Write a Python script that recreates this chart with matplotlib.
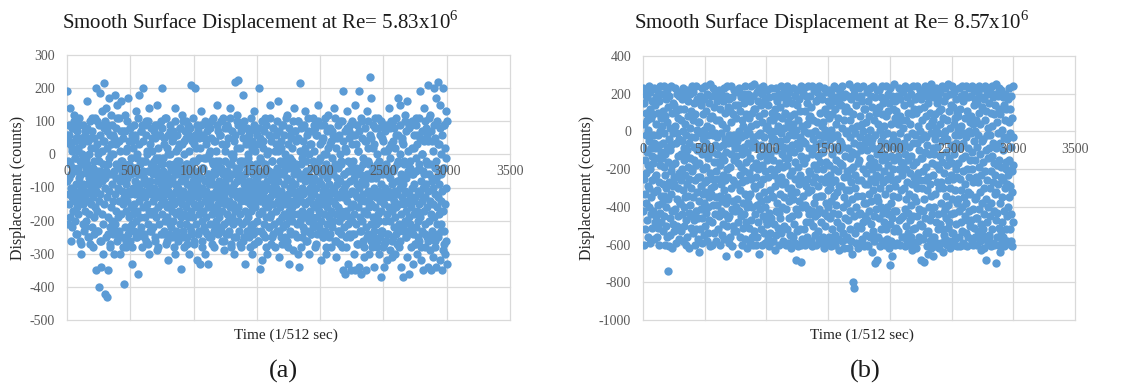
import numpy as np
import matplotlib
matplotlib.use("Agg")
import matplotlib.pyplot as plt

plt.rcParams['font.family'] = ['Liberation Serif', 'DejaVu Serif']
plt.rcParams['mathtext.fontset'] = 'custom'
plt.rcParams['mathtext.rm'] = 'Liberation Serif'
plt.rcParams['axes.unicode_minus'] = False

titles = [r'Smooth Surface Displacement at Re= 5.83x10$^{\mathregular{6}}$',
          r'Smooth Surface Displacement at Re= 8.57x10$^{\mathregular{6}}$']
panel_labels = ['(a)', '(b)']
x_label = 'Time (1/512 sec)'
y_label = 'Displacement (counts)'
x_ticks = [0, 500, 1000, 1500, 2000, 2500, 3000, 3500]
y_ticks_a = [-500, -400, -300, -200, -100, 0, 100, 200, 300]
y_ticks_b = [-1000, -800, -600, -400, -200, 0, 200, 400]
t_start, t_end = 0, 3000

# panel (a): samples read across the record (two interleaved reading passes)
disp_a = [
190,-80,40,-210,-120,60,-150,-30,-190,140,-100,-60,-220,20,-130,80,-170,-40,-110,120,-200,-10,-140,50,-90,
-160,-50,-240,10,-120,-180,90,-70,-260,-140,-20,-100,-300,-60,-130,30,-210,-90,-150,-10,-230,-110,70,-170,-40,
-120,-200,-30,160,-90,-250,-140,0,-180,-70,-110,-270,50,-150,-60,-220,-100,110,-130,-40,-190,-80,-240,20,-160,
200,-110,-350,-50,-170,100,-230,-90,-400,-140,-20,185,-260,-120,-60,-340,130,-180,-80,-210,40,-300,-150,215,-100,
-420,-70,140,-250,-130,-430,90,-190,-30,-350,-110,170,-220,-60,-280,120,-160,0,-200,-90,60,-240,-140,-300,-50,
180,-120,-210,30,-170,-70,-260,150,-100,-190,-40,-230,110,-140,-80,-300,-20,-180,160,-110,-250,-60,-150,70,-390,
-130,-50,-220,120,-90,-170,-280,20,-140,-70,-240,170,-110,-190,-30,-260,-120,80,-160,-60,-210,-330,40,-100,-180,
-40,-150,-230,60,-120,-80,-200,130,-170,-10,-250,-100,-360,-60,-140,180,-190,-90,-30,-220,-130,70,-280,-110,-50,
200,-160,-70,-240,-20,-130,-190,100,-90,-260,-150,10,-210,-110,-50,-300,-170,140,-80,-230,-120,-30,-180,50,-100,
-140,-60,-220,-20,-170,-100,90,-250,-130,-40,-190,-80,150,-290,-110,-160,-10,-210,-70,-130,60,-240,-90,-150,-30,
200,-180,-100,-50,-230,-140,30,-200,-80,-120,-270,110,-160,-60,-190,-320,-110,0,-240,-90,-150,70,-210,-40,-130,
-170,-70,-250,50,-120,-200,-30,-150,-300,-90,140,-180,-110,-230,-60,-140,20,-260,-100,-170,-20,-210,80,-130,-190,
-345,-80,-150,120,-230,-50,-110,-280,-180,40,-130,-70,-210,-160,100,-250,-90,-30,-190,-120,-300,60,-140,-60,-220,
-100,210,-170,-40,-240,-130,-80,-190,30,-150,-270,-60,-110,200,-210,-20,-160,-90,-320,-130,70,-180,-50,-230,-110,
-330,-150,-70,130,-200,-100,-260,-40,-170,-120,50,-220,-80,-140,-300,-10,-190,-110,90,-240,-60,-160,-330,-90,-130,
10,-210,-140,-70,-250,100,-120,-180,-30,-160,-90,-230,-280,40,-130,-60,-200,-110,-20,-170,150,-240,-100,-150,-50,
-190,-80,-120,60,-220,-140,-40,-260,-100,-170,110,-60,-210,-130,-290,-20,-150,-90,-240,30,-180,-110,-50,-200,80,
-140,-230,-70,-160,140,-100,-270,-30,-190,-120,-60,-210,0,-150,-90,-300,-170,220,-110,-40,-250,-130,120,-80,-200,
225,-160,-60,-230,-110,-20,-180,-280,90,-140,-70,-210,-120,180,-260,-90,-30,-170,-330,-100,50,-200,-140,-50,-240,
-120,-10,-190,-80,-250,70,-150,-100,-220,-40,-170,-300,-130,20,-210,-60,-110,-270,130,-160,-90,-30,-230,-140,-70,
-200,60,-120,-260,-50,-180,200,-100,-345,-140,-20,-230,-90,-170,-320,40,-130,-60,-210,-110,110,-250,-150,-40,-190,
-80,-140,-300,10,-160,-100,-220,-50,-190,150,-130,-270,-70,-180,-110,-20,-240,80,-150,-90,-210,-60,-120,-280,30,
-170,-100,-40,-230,-140,160,-80,-200,-120,-310,-60,-160,20,-250,-110,-190,-30,-140,-220,90,-90,-180,-50,-270,-130,
-10,-210,-150,-70,-260,120,-120,-190,-40,-170,-330,-100,-230,60,-140,-80,-200,-20,-160,-290,-110,140,-60,-180,-120,
-240,-90,40,-150,-210,-50,-130,-300,-180,100,-110,-340,-70,-200,215,-140,-30,-250,-100,-170,0,-220,-120,-60,-190,
130,-150,-80,-260,-20,-180,-110,-230,70,-140,-60,-200,-300,-100,-170,30,-240,-130,-40,-190,-90,110,-220,-150,-70,
-210,-120,-30,-280,-160,60,-100,-190,-50,-240,-140,150,-80,-220,-170,-10,-130,-320,-90,-200,40,-150,-60,-250,-110,
90,-180,-130,-40,-230,-100,-300,0,-160,-70,-210,120,-140,-250,-90,-190,30,-120,-50,-280,-170,-110,70,-220,-140,
-60,-200,-100,140,-260,-150,-30,-180,-120,-310,50,-90,-230,-160,-40,-200,-130,100,-270,-80,-170,-20,-240,-110,-190,
190,-350,-130,-60,-220,-100,-360,20,-170,-90,-280,-140,130,-210,-50,-330,-120,-190,70,-250,-80,-160,-350,-30,-200,
-110,-240,60,-150,-300,-70,-180,150,-120,-350,-40,-210,-130,-90,-270,10,-160,-340,-100,190,-230,-60,-190,-140,-360,
-80,100,-200,-120,-260,-30,-170,-310,40,-140,-90,-220,-350,-60,130,-180,-110,-240,-20,-160,-300,235,-130,-70,-210,
170,-150,-50,-280,-120,-190,20,-230,-100,-340,-160,80,-70,-210,-130,-260,-30,-180,110,-110,-300,-60,-200,-140,-250,
-90,-370,-170,50,-230,-120,-40,-280,-150,-340,90,-100,-200,-60,-260,-130,-320,10,-180,-110,-240,-50,140,-160,-290,
-70,-200,-130,30,-310,-90,-170,-250,100,-140,-40,-220,-300,-110,-190,60,-160,-80,-270,-120,170,-230,-20,-150,-210,
150,-100,-260,-60,-180,-340,-130,40,-220,-90,-370,-150,-30,-200,120,-110,-250,-170,-70,-310,160,-140,-230,-50,-190,
-120,-360,-20,-210,-160,90,-280,-100,-60,-240,-140,-330,20,-180,-90,-270,-130,110,-50,-220,-170,-300,60,-110,-200,
-150,-40,-260,-120,190,-190,-80,-320,-140,0,-230,-100,-350,140,-170,-60,-280,-130,-210,80,-90,-250,-160,-30,-340,
210,-110,-200,-60,-290,-140,120,-180,-350,-80,-230,40,-150,-310,-100,200,-190,-40,-260,-120,170,-340,-70,-210,-160,
220,-130,-250,30,-180,-90,-320,150,-140,-210,-60,-350,-110,200,-290,-170,90,-230,-40,-300,-150,130,-260,-100,-330,
]

disp_a_pass2 = [
60,-20,90,-70,30,-260,10,80,-50,100,-10,40,-240,70,-40,20,110,-60,50,-270,0,90,-30,-220,60,
-10,80,-60,40,-250,100,20,-40,70,-280,-20,50,110,-70,30,-230,0,90,-50,60,-260,10,-30,80,40,
100,-50,20,70,-240,-10,60,-270,30,90,-60,0,50,-230,80,-30,110,-250,40,-70,10,70,-20,-280,50,
-30,70,-260,10,100,-50,40,-220,80,-10,60,-280,20,90,-40,50,-250,0,110,-60,30,-230,70,-20,90,
40,-250,90,-20,60,0,-270,100,-50,30,80,-230,10,-40,70,-260,50,-10,90,-280,20,60,-60,100,-30,
80,-10,-240,50,110,-70,20,-260,60,-30,90,0,-220,40,70,-50,-280,100,10,-20,60,-250,30,80,-40,
-60,30,100,-250,0,70,-30,50,-270,90,10,-50,80,-230,40,110,-20,-260,60,-70,20,90,-240,-10,50,
20,90,-40,-280,60,-10,100,-230,30,70,-60,-250,0,80,50,-20,-270,110,-50,40,-220,10,90,-30,70,
-20,60,-230,100,30,-50,-260,80,10,-70,90,-240,50,-30,110,0,-280,70,-10,40,-250,60,-60,20,100,
90,-40,20,-270,70,-20,50,100,-250,-60,30,80,-230,0,60,-280,-30,110,40,-50,-240,90,10,-70,70,
30,-260,80,-10,50,-60,100,-240,20,70,-30,-280,90,0,-50,60,-220,110,40,-20,-250,80,-70,10,60,
-50,100,10,-230,70,-20,40,-270,90,-60,60,0,-250,110,-30,30,-280,80,-10,50,-240,20,100,-40,70,
70,-30,-250,50,100,-60,10,-280,80,-10,40,-230,90,20,-50,60,-260,110,0,-70,30,-240,70,-20,90,
10,80,-270,-40,60,100,-20,-230,30,90,-60,50,-250,0,110,-30,-280,70,20,-50,80,-240,40,-10,60,
-40,50,110,-260,20,-70,90,-230,60,0,-30,100,-280,40,-60,70,-250,10,80,-20,-240,50,90,-50,30,
100,-20,-240,60,-60,30,90,-270,10,70,-40,-230,110,50,-10,-280,80,-70,40,-250,20,100,-30,60,-260,
50,-70,90,-250,30,110,-40,0,-280,80,-20,60,-230,100,-60,40,-270,10,70,-30,-240,90,-50,20,80,
-10,100,-260,40,-50,80,20,-240,110,-30,60,-280,0,90,-70,50,-230,30,-20,100,-250,70,-60,10,90,
80,-40,-230,20,100,-60,60,-270,-10,90,30,-250,110,-30,50,-280,0,70,-50,40,-240,100,-20,60,-260,
40,110,-30,-250,70,-70,10,90,-280,50,-20,100,-240,30,-60,80,-230,0,60,-40,-270,90,20,-10,100,
]

disp_b = [
230,-420,-80,150,-600,-250,40,-330,200,-150,-520,100,-20,-380,-220,180,-470,-110,60,-290,-560,10,-180,240,-400,
-50,-300,120,-590,-200,210,-440,-90,-350,70,-130,-510,160,-260,-20,-420,90,-170,-570,230,-320,-60,-480,140,-240,
-90,180,-450,-230,40,-560,-310,220,-140,-20,-390,100,-510,-270,160,-70,-600,-180,0,-430,240,-340,-110,70,-480,
30,-380,-140,200,-530,-280,110,-60,-450,-190,240,-340,-10,-600,-230,80,-120,-400,170,-500,-300,50,-80,-560,220,
-740,-160,130,-360,-610,-40,-270,190,-460,-100,20,-550,-210,240,-330,-70,-420,100,-180,-620,-290,150,-10,-490,-240,
140,-280,-530,30,-170,230,-410,-60,-590,110,-240,-360,200,-10,-500,-130,70,-450,-300,190,-570,-40,-220,120,-380,
210,-380,-120,60,-530,-260,170,-50,-440,-200,230,-580,-310,0,-150,-400,120,-90,-500,-230,190,-350,40,-600,-130,
-20,-470,220,-280,-100,-560,80,-340,-190,160,-430,-60,-620,-250,20,-390,200,-140,-510,-300,110,-30,-450,-210,240,
-200,60,-540,-350,210,-80,-470,-150,150,-600,-30,-260,90,-420,240,-180,-520,10,-320,-100,170,-460,-240,50,-570,
-640,-170,50,-370,-80,190,-520,-240,-10,-410,140,-290,-590,-120,230,-460,-40,-330,90,-200,-550,10,-380,170,-270,
-110,-500,240,-320,-60,-430,110,-190,-580,30,-260,200,-400,-140,-20,-540,150,-350,-90,-470,70,-220,-610,250,-300,
20,-330,190,-480,-110,-600,80,-250,-20,230,-390,-160,-540,130,-290,-70,200,-440,-10,-580,60,-210,-350,160,-120,
-30,-390,180,-160,-520,-250,60,-450,-80,220,-340,-600,-180,120,-420,-10,-280,200,-550,-130,40,-370,-230,160,-490,
-70,230,-310,-570,-150,100,-440,-40,-260,190,-380,-660,-110,20,-500,-200,240,-350,-60,-460,130,-240,-590,-20,170,
-450,110,-190,-30,-560,240,-300,-120,50,-410,-610,180,-60,-260,-500,90,-370,-150,220,-20,-530,-280,140,-90,-420,
-400,-130,70,-530,-280,210,-50,-360,-170,140,-480,-650,-90,0,-420,230,-230,-560,110,-310,-30,-450,180,-190,-600,
60,-270,-120,200,-510,-380,30,-80,-440,150,-210,-570,-20,-330,240,-160,-480,90,-260,-620,10,-400,190,-110,-350,
200,-60,-380,-510,70,-220,-10,-590,160,-330,-140,30,-470,240,-250,-560,100,-80,-400,-190,190,-600,-30,-290,120,
250,-530,-60,-300,120,-440,-170,-600,40,-240,210,-390,-90,-560,160,-20,-480,-200,80,-340,-650,230,-130,-410,-10,
-280,140,-520,-70,-370,200,-180,-600,50,-450,-250,240,-120,-30,-540,100,-320,-590,170,-210,-400,20,-80,-470,220,
-150,-490,30,220,-360,-80,-570,140,-240,10,-430,-610,180,-120,-310,60,-540,-20,230,-200,-460,100,-340,-50,-580,
-150,-580,60,-350,-40,190,-490,-230,-630,120,-290,0,-420,230,-100,-550,80,-200,-380,160,-60,-510,-260,30,-430,
200,-170,-600,-50,-330,130,-460,-10,-240,240,-540,-120,70,-400,-280,180,-580,-80,-190,20,-350,210,-500,-140,100,
90,-270,-600,150,-40,-410,-180,240,-520,-90,-300,50,-590,170,-140,-460,-20,210,-370,-230,80,-550,-110,20,-330,
-300,-620,150,-70,-450,-210,40,-560,230,-360,-110,-20,-490,90,-250,-590,190,-160,-410,10,-680,-320,140,-60,-530,
220,-190,-440,60,-610,-280,170,-90,-370,-30,-520,110,-230,-600,240,-130,-690,-400,30,-260,-570,200,-50,-340,-150,
-520,0,230,-170,-390,-600,110,-60,-290,190,-480,-140,40,-560,-250,150,-10,-410,240,-320,-90,-580,70,-210,-440,
80,-480,-220,190,-580,-10,-310,130,-420,-120,-610,240,-270,-40,-500,60,-180,-380,220,-90,-550,-240,0,-450,160,
-350,-70,-600,210,-200,-440,50,-130,-530,170,-290,-20,-410,240,-570,-160,100,-340,-60,-480,-250,190,-590,-110,30,
170,-340,-110,50,-560,-200,230,-430,-30,-620,120,-270,-500,10,-160,210,-380,-70,-590,90,-240,-450,160,-20,-310,
-400,220,-180,-560,70,-300,-40,-460,140,-230,-610,10,-370,200,-120,-520,-270,90,-580,-30,-430,160,-200,-340,240,
-80,-550,120,-260,-600,40,-390,-150,230,-480,-20,-320,180,-570,-210,70,-440,-100,-630,150,-290,-50,-510,210,-170,
-60,-500,140,-290,20,-580,240,-180,-400,-80,180,-540,-240,60,-350,-620,110,-130,-460,200,-10,-310,-570,130,-210,
0,-380,-560,190,-240,-90,-470,110,-310,-620,250,-140,-30,-520,60,-420,-200,170,-580,-270,20,-650,-110,-360,230,
-800,-190,90,-450,-60,-830,200,-300,-540,-10,-230,140,-400,-590,-120,240,-340,30,-500,-170,-620,180,-260,-70,-440,
230,-150,-430,80,-600,-30,-260,190,-510,-100,-340,40,-570,160,-200,-480,0,240,-380,-70,-610,120,-280,-40,-450,
120,-550,-220,50,-380,-600,210,-100,-470,-280,160,-30,-610,-180,80,-420,-330,230,-560,-140,10,-490,-250,190,-60,
-370,-640,130,-200,-40,-530,240,-310,-90,-450,60,-580,-160,180,-270,-700,-20,-410,100,-230,-560,220,-120,-350,-680,
-370,40,-560,-190,220,-90,-460,130,-300,-610,10,-240,180,-520,-50,-400,90,-150,240,-580,-270,-20,150,-430,-120,
30,-480,-210,170,-600,-60,-330,240,-140,-520,80,-400,-250,-10,-570,200,-180,-440,110,-300,-620,-80,150,-490,-230,
-710,230,-130,-380,40,-580,-260,190,-50,-460,-660,120,-200,-340,-20,-530,250,-150,-420,70,-290,-600,160,-90,-510,
110,-420,-50,-590,190,-250,-130,40,-530,-350,230,-70,-470,-200,80,-600,-10,170,-310,-460,60,-160,-560,210,-90,
-230,20,-450,210,-170,-560,-300,140,-60,-410,-610,240,-120,-360,60,-500,-200,-30,-580,180,-270,-430,100,-150,-540,
230,-330,-80,-600,150,-220,-470,40,-130,-560,200,-390,-10,-280,-630,90,-180,-450,240,-60,-520,-240,120,-350,-590,
-280,170,-510,-20,-370,100,-620,-160,240,-450,-60,-300,30,-580,-220,190,-100,-410,-560,120,-260,0,220,-490,-140,
-40,-680,170,-300,-140,-500,60,-420,210,-210,-570,-20,-360,130,-690,-110,-460,240,-260,-30,-540,80,-190,-610,190,
-310,-70,-530,150,-240,-650,30,-400,220,-120,-580,-280,100,-470,-10,-340,-620,250,-170,-440,50,-560,-90,180,-660,
60,-230,-560,200,-120,-400,-610,90,-40,-330,230,-480,-180,20,-590,-270,150,-80,-440,-10,180,-520,-300,110,-620,
-200,40,-490,-130,210,-380,-590,120,-270,-50,-520,240,-160,-430,-640,70,-300,-20,-550,160,-220,-410,0,-570,230,
-110,-460,190,-340,-600,60,-180,-40,-510,250,-260,-390,-580,110,-140,-480,20,-300,200,-620,-70,-440,140,-230,-540,
-170,240,-360,-80,-540,130,-250,-600,40,-430,-120,210,-310,-20,-570,70,-200,-490,170,-60,-380,-610,100,-240,10,
80,-360,-170,230,-560,-20,-420,120,-250,-610,-90,190,-480,-310,30,-530,-140,240,-400,-60,-590,160,-210,-350,-10,
-600,200,-280,-450,70,-130,-540,240,-380,-30,-610,110,-200,-470,-320,180,-90,-560,0,-420,-240,230,-150,-500,50,
-330,80,-470,190,-10,-580,-200,240,-110,-410,40,-600,-270,140,-50,-510,220,-360,-150,0,-560,170,-240,-460,60,
-350,-600,150,-80,-460,210,-270,-20,-530,100,-190,-410,240,-580,-120,-320,40,-490,-630,180,-230,-50,-550,130,-380,
230,-160,-520,-40,-300,170,-440,-620,60,-210,-570,240,-100,-360,-680,110,-260,-20,-480,200,-590,-140,-400,20,-550,
150,-560,-90,-300,210,-450,-20,-610,100,-210,-380,240,-130,-520,30,-270,-590,180,-60,-420,-170,90,-600,-330,200,
-230,140,-470,-90,-700,250,-320,-560,50,-180,-430,190,-10,-600,-280,120,-510,-150,230,-380,-60,-640,90,-240,-530,
220,-190,-590,10,-350,-480,180,-100,-560,-260,140,-610,-30,-420,200,-300,-600,60,-160,-520,-200,120,-450,-580,-280,
-40,-400,170,-590,-230,50,-350,230,-150,-520,-10,-290,120,-580,-440,190,-80,-210,-610,70,-320,-30,240,-480,-180,
]

W, H = 1133, 388
fig = plt.figure(figsize=(W / 100, H / 100), dpi=100)

grid_c = '#d9d9d9'
tick_c = '#595959'
pt_c = '#5B9BD5'

panels = [
    dict(rect=(67, 55, 510, 320), ys=[disp_a, disp_a_pass2], yt=y_ticks_a,
         title_x=260, lab_x=286, pl_x=283, ylab_x=18),
    dict(rect=(643, 56, 1075, 320), ys=[disp_b], yt=y_ticks_b,
         title_x=832, lab_x=862, pl_x=865, ylab_x=587),
]

for i, p in enumerate(panels):
    x0, y0, x1, y1 = p['rect']
    ax = fig.add_axes([x0 / W, 1 - y1 / H, (x1 - x0) / W, (y1 - y0) / H])
    for xt in x_ticks:
        ax.axvline(xt, color=grid_c, lw=0.9, zorder=0.5, clip_on=False)
    for yt in p['yt']:
        ax.axhline(yt, color=grid_c, lw=0.9, zorder=0.5, clip_on=False)
    xs, yss = [], []
    for series in p['ys']:
        yv = np.array(series)
        xs.append(np.linspace(t_start, t_end, len(yv)))
        yss.append(yv)
    xv = np.concatenate(xs)
    yv = np.concatenate(yss)
    order = np.argsort(xv, kind='stable')
    ax.scatter(xv[order], yv[order], s=36, color=pt_c, linewidths=0, zorder=1.2)
    ax.set_xlim(x_ticks[0], x_ticks[-1])
    ax.set_ylim(p['yt'][0], p['yt'][-1])
    ax.set_xticks(x_ticks)
    ax.set_yticks(p['yt'])
    ax.set_axisbelow(False)
    for s in ax.spines.values():
        s.set_visible(False)
    ax.spines['bottom'].set_position(('data', 0))
    ax.tick_params(axis='both', length=0, labelsize=10, labelcolor=tick_c)
    ax.tick_params(axis='x', pad=8)
    ax.tick_params(axis='y', pad=8.5)
    ax.patch.set_alpha(0)
    fig.text(p['title_x'] / W, 1 - 29 / H, titles[i], fontsize=15, ha='center',
             va='baseline', color='#1a1a1a')
    fig.text(p['ylab_x'] / W, 1 - 188 / H, y_label, rotation=90, fontsize=11.5,
             ha='center', va='center', color='#262626')
    fig.text(p['lab_x'] / W, 1 - 335 / H, x_label, fontsize=11, ha='center',
             va='center', color='#262626')
    fig.text(p['pl_x'] / W, 1 - 371 / H, panel_labels[i], fontsize=19, ha='center',
             va='center', color='#1a1a1a')

fig.savefig('out.png', dpi=100)
